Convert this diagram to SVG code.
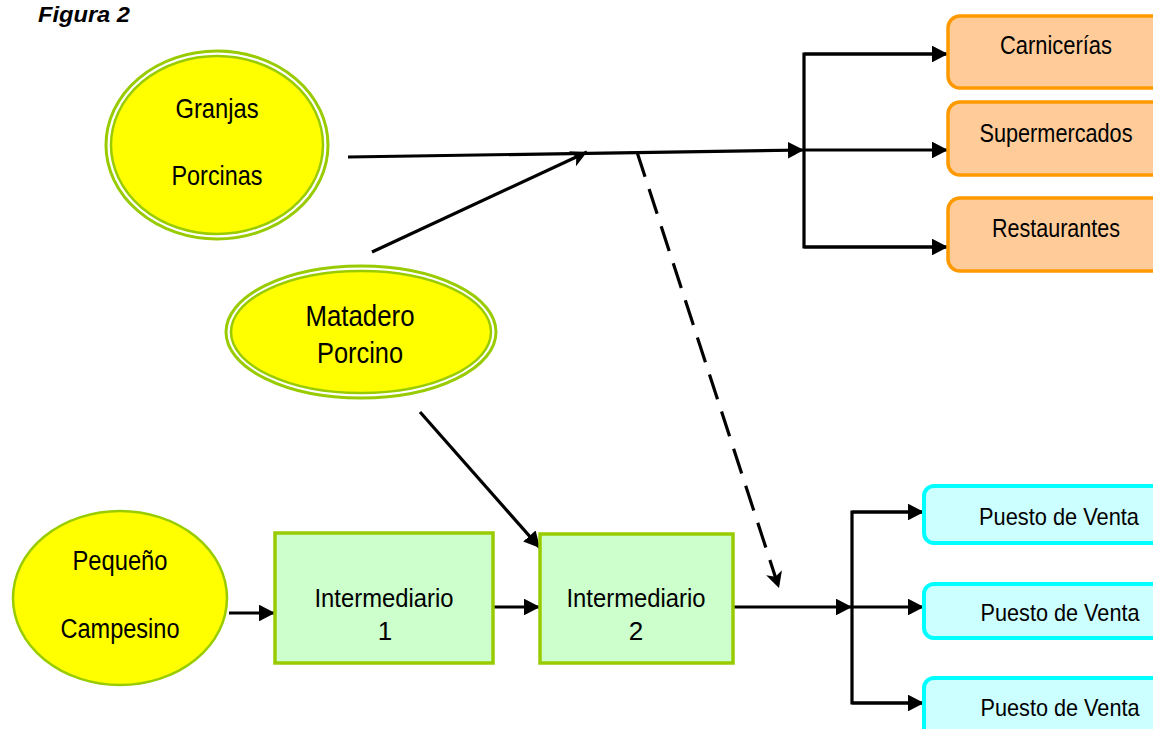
<svg xmlns="http://www.w3.org/2000/svg" width="1153" height="729" viewBox="0 0 1153 729">
<defs>
<marker id="arr" markerWidth="5" markerHeight="5.2" refX="5" refY="2.6" orient="auto" markerUnits="strokeWidth">
<path d="M0,0 L5,2.6 L0,5.2 z" fill="#000"/>
</marker>
<marker id="barb" markerWidth="5" markerHeight="5.2" refX="5" refY="2.6" orient="auto" markerUnits="strokeWidth">
<path d="M0,0 L5,2.6 L0,5.2 L1.3,2.6 z" fill="#000"/>
</marker>
<style>
.t{font-family:"Liberation Sans",Arial,sans-serif;fill:#000;text-anchor:middle}
.ln{stroke:#000;stroke-width:3.2;fill:none}
.ell{fill:#ffff00;stroke:#99cc00}
.outer{fill:#ffffff;stroke:#99cc00;stroke-width:3}
.org{fill:#ffcc99;stroke:#ff9900;stroke-width:3.5}
.cyn{fill:#ccffff;stroke:#00ffff;stroke-width:4}
.grn{fill:#ccffcc;stroke:#99cc00;stroke-width:3.5}
</style>
</defs>
<rect width="1153" height="729" fill="#fff"/>
<text x="38" y="22" font-family="Liberation Sans,Arial,sans-serif" font-weight="bold" font-style="italic" font-size="22" textLength="92" lengthAdjust="spacingAndGlyphs">Figura 2</text>

<g id="connectors">
<line class="ln" x1="348" y1="157" x2="804" y2="150" marker-end="url(#arr)"/>
<line class="ln" x1="372" y1="252" x2="587" y2="152" marker-end="url(#barb)"/>
<line class="ln" x1="637" y1="152" x2="779" y2="588" stroke-dasharray="26 13" marker-end="url(#barb)"/>
<polyline class="ln" points="946,54 804,54 804,247 946,247"/>
<line class="ln" x1="804" y1="54" x2="948" y2="54" marker-end="url(#arr)"/>
<line class="ln" x1="804" y1="150" x2="948" y2="150" marker-end="url(#arr)"/>
<line class="ln" x1="804" y1="247" x2="948" y2="247" marker-end="url(#arr)"/>
<line class="ln" x1="420" y1="412" x2="540" y2="548" marker-end="url(#arr)"/>
<line class="ln" x1="229" y1="613" x2="275" y2="613" marker-end="url(#arr)"/>
<line class="ln" x1="493" y1="607" x2="540" y2="607" marker-end="url(#arr)"/>
<line class="ln" x1="733" y1="607" x2="852" y2="607" marker-end="url(#arr)"/>
<polyline class="ln" points="922,512 852,512 852,703 922,703"/>
<line class="ln" x1="852" y1="512" x2="924" y2="512" marker-end="url(#arr)"/>
<line class="ln" x1="852" y1="607" x2="924" y2="607" marker-end="url(#arr)"/>
<line class="ln" x1="852" y1="703" x2="924" y2="703" marker-end="url(#arr)"/>
</g>

<g id="granjas">
<ellipse class="outer" cx="217" cy="145" rx="111" ry="94"/>
<ellipse class="ell" stroke-width="2.5" cx="217" cy="145" rx="106" ry="89"/>
<text class="t" x="217" y="118" font-size="28" textLength="83" lengthAdjust="spacingAndGlyphs">Granjas</text>
<text class="t" x="217" y="185" font-size="28" textLength="91" lengthAdjust="spacingAndGlyphs">Porcinas</text>
</g>

<g id="matadero">
<ellipse class="outer" cx="361" cy="332" rx="135" ry="66"/>
<ellipse class="ell" stroke-width="2.5" cx="361" cy="332" rx="130" ry="61"/>
<text class="t" x="360" y="326" font-size="29" textLength="109" lengthAdjust="spacingAndGlyphs">Matadero</text>
<text class="t" x="360" y="363" font-size="29" textLength="86" lengthAdjust="spacingAndGlyphs">Porcino</text>
</g>

<g id="pequeno">
<ellipse class="ell" stroke-width="2.5" cx="120" cy="598" rx="107" ry="87"/>
<text class="t" x="120" y="570" font-size="27" textLength="95" lengthAdjust="spacingAndGlyphs">Pequeño</text>
<text class="t" x="120" y="638" font-size="27" textLength="119" lengthAdjust="spacingAndGlyphs">Campesino</text>
</g>

<g id="intermediario1">
<rect class="grn" x="275" y="533" width="218" height="130"/>
<text class="t" x="384" y="607" font-size="26" textLength="139" lengthAdjust="spacingAndGlyphs">Intermediario</text>
<text class="t" x="385" y="640" font-size="26">1</text>
</g>

<g id="intermediario2">
<rect class="grn" x="540" y="534" width="193" height="129"/>
<text class="t" x="636" y="607" font-size="26" textLength="139" lengthAdjust="spacingAndGlyphs">Intermediario</text>
<text class="t" x="636" y="640" font-size="26">2</text>
</g>

<g id="carnicerias">
<rect class="org" x="948" y="16" width="230" height="72" rx="12"/>
<text class="t" x="1056" y="54" font-size="26" textLength="112" lengthAdjust="spacingAndGlyphs">Carnicerías</text>
</g>
<g id="supermercados">
<rect class="org" x="948" y="102" width="230" height="73" rx="12"/>
<text class="t" x="1056" y="142" font-size="26" textLength="153" lengthAdjust="spacingAndGlyphs">Supermercados</text>
</g>
<g id="restaurantes">
<rect class="org" x="948" y="198" width="230" height="73" rx="12"/>
<text class="t" x="1056" y="237" font-size="26" textLength="128" lengthAdjust="spacingAndGlyphs">Restaurantes</text>
</g>

<g id="puesto1">
<rect class="cyn" x="924" y="486" width="250" height="57" rx="10"/>
<text class="t" x="1059" y="525" font-size="24" textLength="160" lengthAdjust="spacingAndGlyphs">Puesto de Venta</text>
</g>
<g id="puesto2">
<rect class="cyn" x="924" y="584" width="250" height="54" rx="10"/>
<text class="t" x="1060" y="621" font-size="24" textLength="159" lengthAdjust="spacingAndGlyphs">Puesto de Venta</text>
</g>
<g id="puesto3">
<rect class="cyn" x="924" y="678" width="250" height="70" rx="10"/>
<text class="t" x="1060" y="716" font-size="24" textLength="159" lengthAdjust="spacingAndGlyphs">Puesto de Venta</text>
</g>
</svg>
